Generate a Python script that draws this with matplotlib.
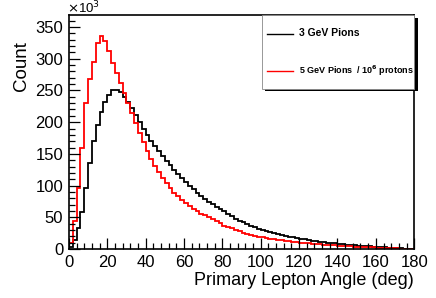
import matplotlib
matplotlib.use("Agg")
import matplotlib.pyplot as plt
from matplotlib.patches import Rectangle
from matplotlib.lines import Line2D
from matplotlib.ticker import MultipleLocator
import numpy as np

plt.rcParams['font.family'] = ['Liberation Sans', 'DejaVu Sans']

# 2 degree bins, 0..180 deg, counts in units of 10^3
edges = np.arange(0, 182, 2)

pions_3gev = [3, 14, 33, 59, 96, 135, 170, 196, 216, 232,
              243, 250, 251, 247, 240, 232, 222, 212, 201, 190,
              180, 170, 162, 154, 146, 139, 132, 125, 118, 112,
              106, 100, 94, 89, 84, 79, 75, 71, 67, 63,
              59.5, 56, 52, 48, 45, 42, 39.5, 37, 34.5, 32,
              30, 28, 26.5, 25, 23.5, 22, 20.7, 19.5, 18.4, 17.3,
              16.3, 15.3, 14.4, 13.5, 12.6, 11.8, 11, 10.3, 9.6, 9,
              8.4, 7.8, 7.2, 6.6, 6.1, 5.6, 5.1, 4.6, 4.2, 3.8,
              3.4, 3, 2.6, 2.2, 1.9, 1.5, 1.2, 0.9, 0.6, 0.3]

pions_5gev = [9, 44, 96, 159, 230, 268, 295, 325, 335, 328,
              312, 294, 278, 262, 246, 230, 214, 198, 183, 168,
              154, 142, 131, 121, 112, 104, 96, 89, 83, 77,
              72, 68, 64, 60, 56, 53, 50, 47, 44, 41.5,
              37, 35, 33, 30, 28, 26, 24.5, 23, 21, 19.5,
              18.5, 17.5, 16.5, 15.5, 14.5, 13.7, 13, 12.2, 11.5, 10.8,
              10.2, 9.6, 9, 8.5, 8, 7.5, 7, 6.6, 6.2, 5.8,
              5.4, 5, 4.7, 4.4, 4.1, 3.8, 3.5, 3.2, 2.9, 2.6,
              2.3, 2.0, 1.7, 1.5, 1.3, 1.1, 0.9, 0.7, 0.5, 0.3]

fig = plt.figure(figsize=(4.36, 2.98), dpi=100)
ax = fig.add_axes([0.158, 0.164, 0.792, 0.786])

ax.stairs(pions_3gev, edges, color='black', lw=1.3, baseline=0)
ax.stairs(pions_5gev, edges, color='red', lw=1.3, baseline=0)

ax.set_xlim(0, 180)
ax.set_ylim(0, 369)
ax.xaxis.set_major_locator(MultipleLocator(20))
ax.xaxis.set_minor_locator(MultipleLocator(4))
ax.yaxis.set_major_locator(MultipleLocator(50))
ax.yaxis.set_minor_locator(MultipleLocator(10))
ax.tick_params(which='both', direction='in', labelsize=12, pad=4)
ax.tick_params(which='major', length=8, width=0.9)
ax.tick_params(which='minor', length=4, width=0.9)
for s in ax.spines.values():
    s.set_linewidth(1.2)

ax.set_xlabel('Primary Lepton Angle (deg)', fontsize=13, loc='right', labelpad=2)
ax.set_ylabel('Count', fontsize=13.5)
ax.yaxis.set_label_coords(-0.113, 0.78)
ax.text(-0.005, 0.995, r'$\times$10$^{3}$', transform=ax.transAxes, fontsize=9.5,
        ha='left', va='bottom')

# ROOT-style legend box with shadow (figure pixel layout)
W, H = 436.0, 298.0
def fx(x): return x / W
def fy(y): return 1 - y / H
fig.patches.append(Rectangle((fx(265), fy(91)), fx(418) - fx(265), fy(18) - fy(91),
                             transform=fig.transFigure, facecolor='black',
                             edgecolor='none', zorder=5))
box = Rectangle((fx(262), fy(89)), fx(414) - fx(262), fy(15) - fy(89),
                transform=fig.transFigure, facecolor='white',
                edgecolor='#888888', lw=0.6, zorder=6)
fig.patches.append(box)
fig.lines.append(Line2D([fx(267), fx(293)], [fy(33.5), fy(33.5)],
                        transform=fig.transFigure, color='black', lw=1.0, zorder=7))
fig.lines.append(Line2D([fx(267), fx(293)], [fy(70.5), fy(70.5)],
                        transform=fig.transFigure, color='red', lw=1.0, zorder=7))
fig.text(fx(299), fy(33.5), '3 GeV Pions', fontsize=7.5, fontweight='bold',
         va='center', ha='left', zorder=8)
fig.text(fx(299), fy(70.5), r'5 GeV Pions  / 10$^{\mathbf{6}}$ protons', fontsize=6.5,
         fontweight='bold', va='center', ha='left', zorder=8)

fig.savefig('out.png', dpi=100)
